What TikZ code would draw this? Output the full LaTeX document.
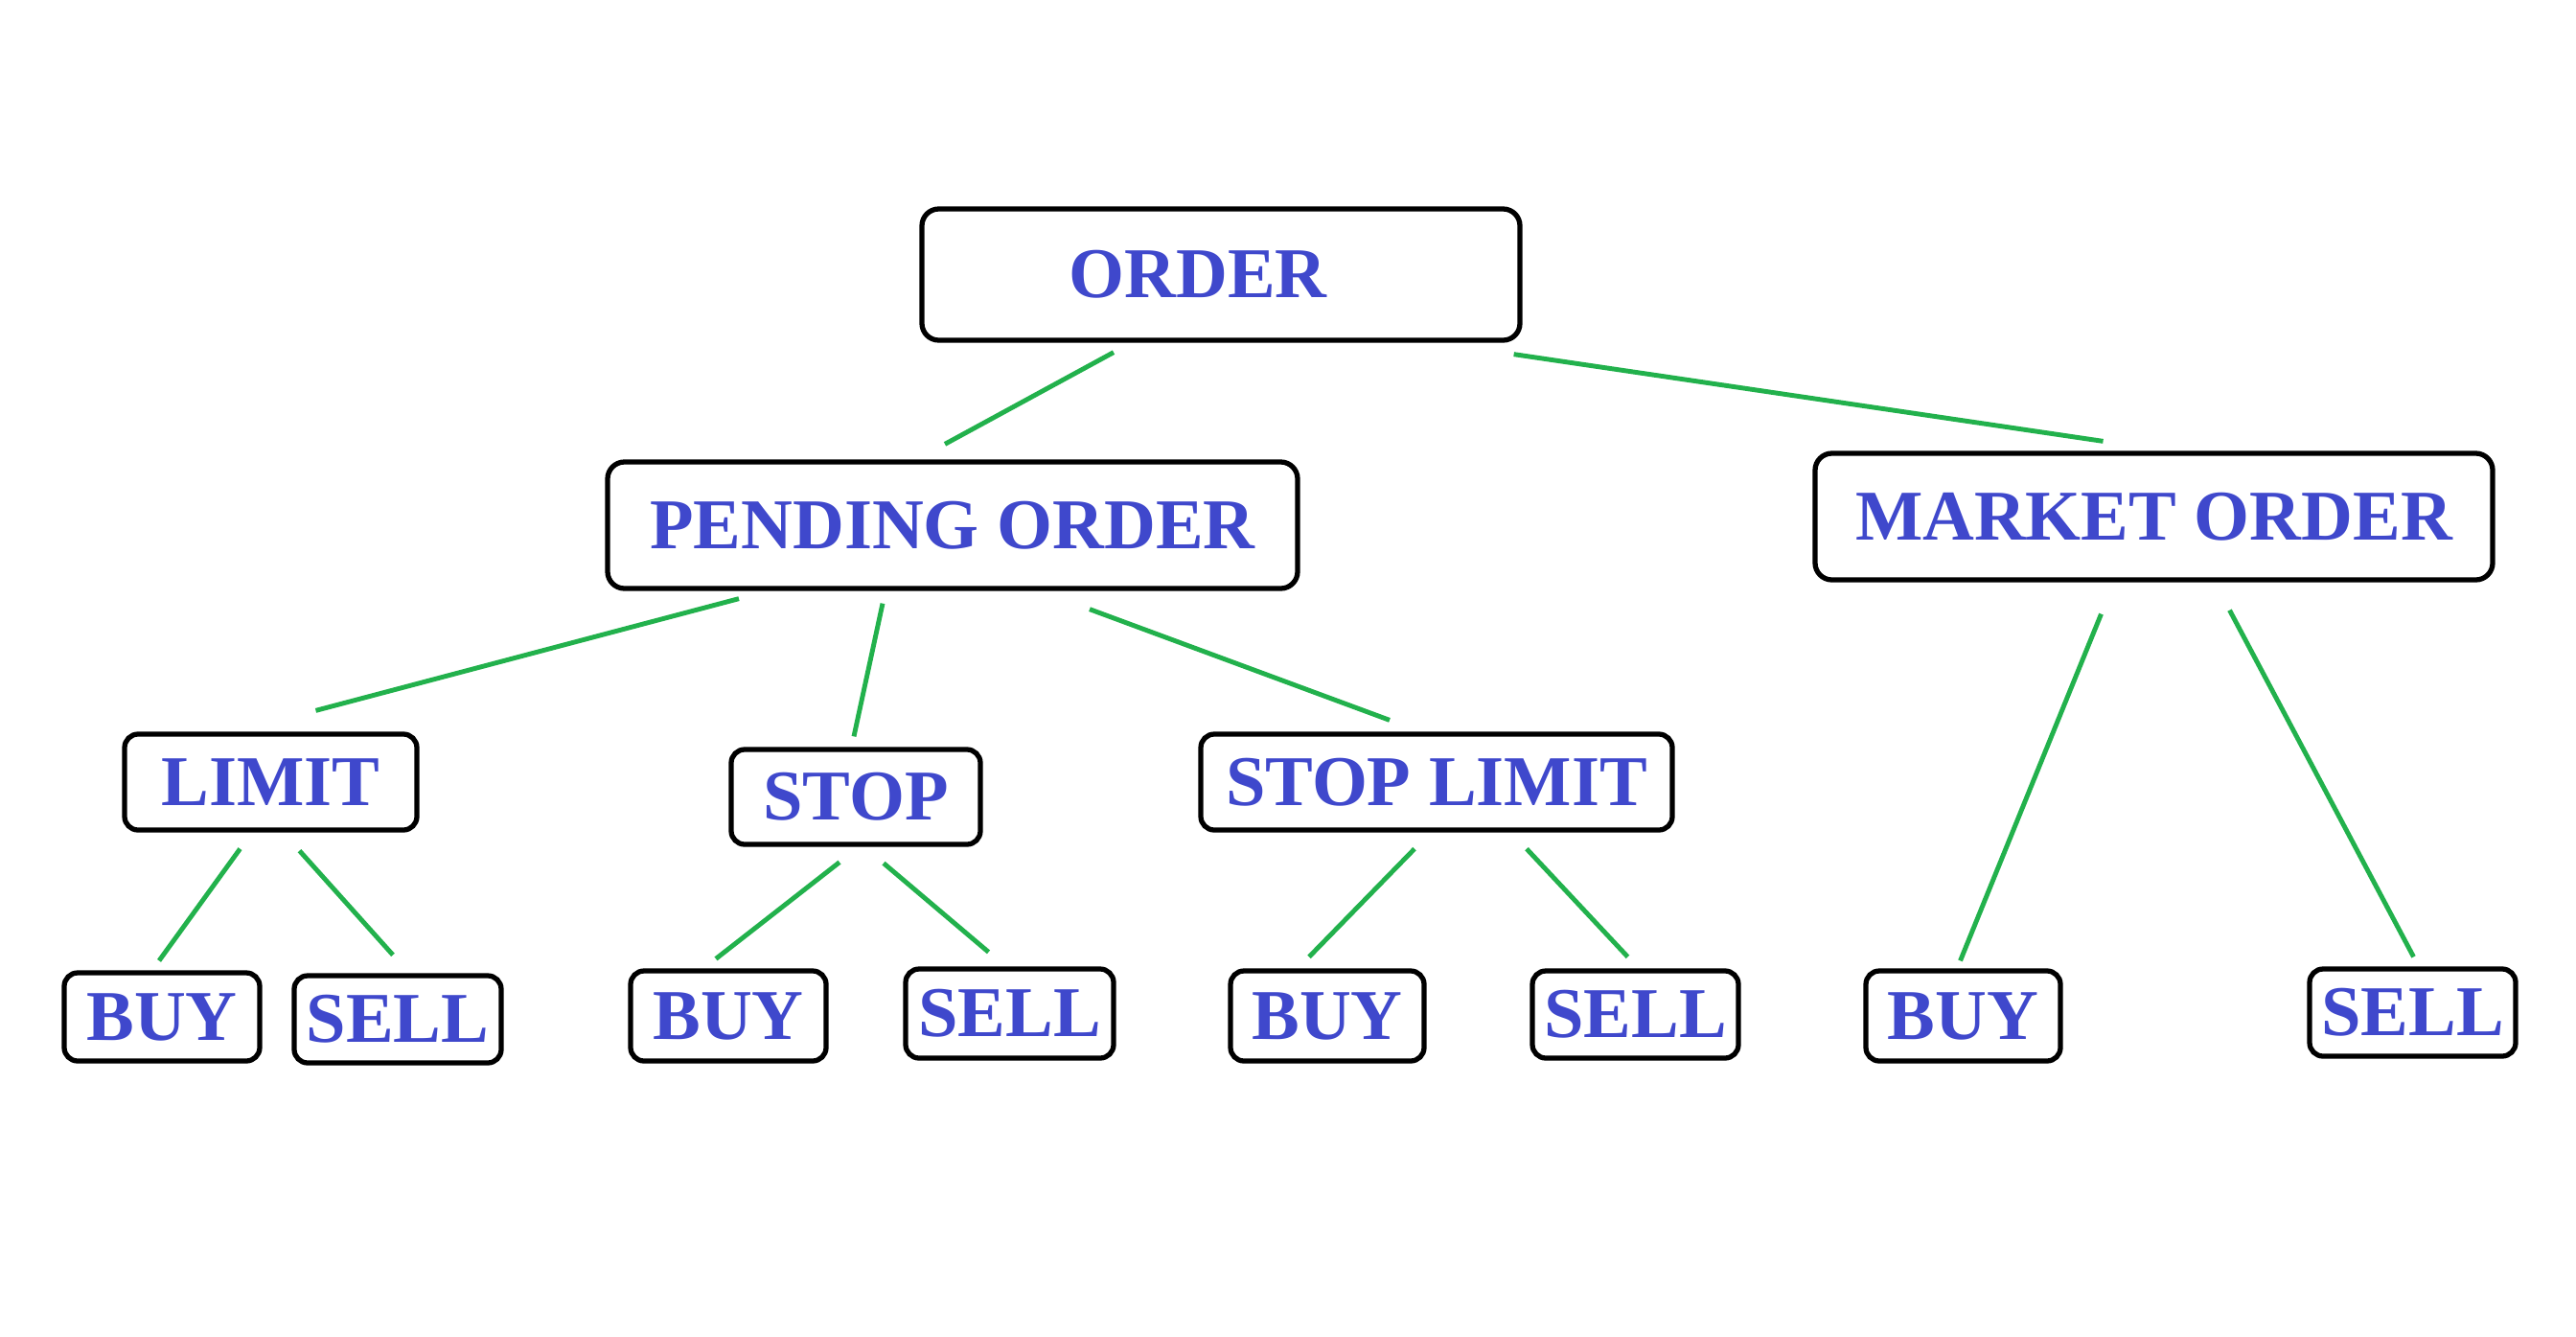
\documentclass[tikz,border=0pt]{standalone}
\usepackage{fontspec}
\setmainfont{Liberation Serif}
\usepackage{xcolor}
\usetikzlibrary{calc}
\definecolor{ordblue}{HTML}{3F48CC}
\definecolor{lnkgreen}{HTML}{22B14C}

\begin{document}
\begin{tikzpicture}[
  font=\fontsize{21.2}{26}\selectfont\bfseries,
  % --- boxes and links ---
  box/.style   ={draw=black,line width=1.5pt,rounded corners=4pt,fill=white,
                 text=ordblue,inner sep=0pt},
  bigbox/.style={box,rounded corners=5pt},
  link/.style  ={draw=lnkgreen,line width=1.4pt},
]
\useasboundingbox (0,0) rectangle (26.88,-13.94);

% ================================ boxes ===================================
\node[bigbox,minimum width=6.24cm,minimum height=1.37cm] (order) at (12.74,-2.865) {\hspace*{-0.48cm}ORDER};

\node[bigbox,minimum width=7.20cm,minimum height=1.32cm] (pending) at (9.94,-5.48) {PENDING ORDER};
\node[bigbox,minimum width=7.07cm,minimum height=1.32cm] (market) at (22.475,-5.39) {MARKET ORDER};

\node[box,minimum width=3.05cm,minimum height=1.00cm] (limit) at (2.825,-8.16) {LIMIT};
\node[box,minimum width=2.60cm,minimum height=0.99cm] (stop) at (8.93,-8.315) {STOP};
\node[box,minimum width=4.92cm,minimum height=1.00cm] (stoplimit) at (14.99,-8.16) {STOP LIMIT};

\node[box,minimum width=2.04cm,minimum height=0.92cm] (buyA) at (1.69,-10.61) {BUY};
\node[box,minimum width=2.16cm,minimum height=0.91cm] (sellA) at (4.15,-10.635) {SELL};
\node[box,minimum width=2.04cm,minimum height=0.94cm] (buyB) at (7.60,-10.60) {BUY};
\node[box,minimum width=2.17cm,minimum height=0.93cm] (sellB) at (10.535,-10.575) {SELL};
\node[box,minimum width=2.02cm,minimum height=0.94cm] (buyC) at (13.85,-10.60) {BUY};
\node[box,minimum width=2.15cm,minimum height=0.91cm] (sellC) at (17.065,-10.585) {SELL};
\node[box,minimum width=2.03cm,minimum height=0.94cm] (buyD) at (20.485,-10.60) {BUY};
\node[box,minimum width=2.15cm,minimum height=0.91cm] (sellD) at (25.175,-10.565) {SELL};

% ================================ links ===================================
% links stop short of the boxes, so each end is offset from an anchor
\draw[link] ($(order.south)+(-1.12,-0.10)$) -- ($(pending.north)+(-0.08,0.16)$);
\draw[link] ($(order.south east)+(-0.09,-0.12)$) -- ($(market.north)+(-0.53,0.10)$);

\draw[link] ($(pending.south)+(-2.23,-0.08)$) -- ($(limit.north)+(0.47,0.22)$);
\draw[link] ($(pending.south)+(-0.73,-0.13)$) -- ($(stop.north)+(-0.02,0.11)$);
\draw[link] ($(pending.south)+(1.43,-0.19)$) -- ($(stoplimit.north)+(-0.49,0.12)$);

\draw[link] ($(market.south)+(-0.55,-0.33)$) -- ($(buyD.north)+(-0.03,0.08)$);
\draw[link] ($(market.south)+(0.79,-0.29)$) -- ($(sellD.north)+(0.01,0.10)$);

\draw[link] ($(limit.south)+(-0.32,-0.17)$) -- ($(buyA.north)+(-0.03,0.10)$);
\draw[link] ($(limit.south)+(0.30,-0.19)$) -- ($(sellA.north)+(-0.05,0.19)$);

\draw[link] ($(stop.south)+(-0.17,-0.16)$) -- ($(buyB.north)+(-0.13,0.10)$);
\draw[link] ($(stop.south)+(0.29,-0.17)$) -- ($(sellB.north)+(-0.22,0.15)$);

\draw[link] ($(stoplimit.south)+(-0.23,-0.17)$) -- ($(buyC.north)+(-0.19,0.12)$);
\draw[link] ($(stoplimit.south)+(0.94,-0.17)$) -- ($(sellC.north)+(-0.08,0.12)$);

\end{tikzpicture}
\end{document}
